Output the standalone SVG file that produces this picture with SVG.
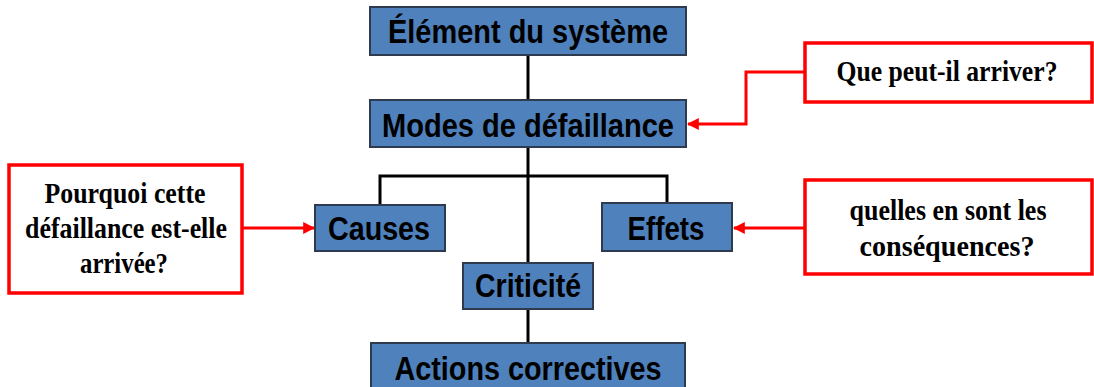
<svg xmlns="http://www.w3.org/2000/svg" width="1094" height="387" viewBox="0 0 1094 387">
<style>
.node rect.b{fill:#4F81BD;stroke:#2E3B4E;stroke-width:2}
.node text.b{font-family:"Liberation Sans",Arial,sans-serif;font-weight:bold;font-size:33px;fill:#000;text-anchor:middle}
.node rect.q{fill:#fff;stroke:#FF0000;stroke-width:3.5}
.node text.q{font-family:"Liberation Serif","Times New Roman",serif;font-weight:bold;font-size:29px;fill:#000;text-anchor:middle}
.blk{fill:none;stroke:#000;stroke-width:3}
.red{fill:none;stroke:#FF0000;stroke-width:3;marker-end:url(#ah)}
</style>
<defs>
<marker id="ah" viewBox="0 0 10 10" refX="9" refY="5" markerWidth="4" markerHeight="4" orient="auto" markerUnits="strokeWidth">
<path d="M0,0 L10,5 L0,10 z" fill="#FF0000"/>
</marker>
</defs>
<rect width="1094" height="387" fill="#fff"/>
<g id="connectors">
<path class="blk" d="M528,55 V100"/>
<path class="blk" d="M528,147 V263"/>
<path class="blk" d="M528,309 V343"/>
<path class="blk" d="M380,205 V176 H667 V203"/>
<path class="red" d="M805,72 H746 V124 H688"/>
<path class="red" d="M242,228 H314"/>
<path class="red" d="M805,228 H734"/>
</g>
<g id="n-element" class="node">
<rect class="b" x="370" y="7" width="316" height="48"/>
<text class="b" x="528" y="43" textLength="280" lengthAdjust="spacingAndGlyphs">Élément du système</text>
</g>
<g id="n-modes" class="node">
<rect class="b" x="370" y="100" width="316" height="47"/>
<text class="b" x="528" y="137" textLength="292" lengthAdjust="spacingAndGlyphs">Modes de défaillance</text>
</g>
<g id="n-causes" class="node">
<rect class="b" x="315" y="205" width="130" height="46"/>
<text class="b" x="379" y="240" textLength="102" lengthAdjust="spacingAndGlyphs">Causes</text>
</g>
<g id="n-effets" class="node">
<rect class="b" x="602" y="203" width="130" height="48"/>
<text class="b" x="666" y="240" textLength="77" lengthAdjust="spacingAndGlyphs">Effets</text>
</g>
<g id="n-criticite" class="node">
<rect class="b" x="463" y="263" width="130" height="46"/>
<text class="b" x="528" y="297" textLength="106" lengthAdjust="spacingAndGlyphs">Criticité</text>
</g>
<g id="n-actions" class="node">
<rect class="b" x="371" y="343" width="314" height="52"/>
<text class="b" x="528" y="380" textLength="267" lengthAdjust="spacingAndGlyphs">Actions correctives</text>
</g>
<g id="q-que" class="node">
<rect class="q" x="805" y="43" width="287" height="59"/>
<text class="q" x="947" y="81" textLength="221" lengthAdjust="spacingAndGlyphs">Que peut-il arriver?</text>
</g>
<g id="q-pourquoi" class="node">
<rect class="q" x="9" y="165" width="233" height="128"/>
<text class="q" x="125" y="203" textLength="161" lengthAdjust="spacingAndGlyphs">Pourquoi cette</text>
<text class="q" x="126" y="238" textLength="202" lengthAdjust="spacingAndGlyphs">défaillance est-elle</text>
<text class="q" x="124" y="273" textLength="88" lengthAdjust="spacingAndGlyphs">arrivée?</text>
</g>
<g id="q-consequences" class="node">
<rect class="q" x="805" y="180" width="287" height="94"/>
<text class="q" x="948" y="220" textLength="197" lengthAdjust="spacingAndGlyphs">quelles en sont les</text>
<text class="q" x="947" y="256" textLength="175" lengthAdjust="spacingAndGlyphs">conséquences?</text>
</g>
</svg>
